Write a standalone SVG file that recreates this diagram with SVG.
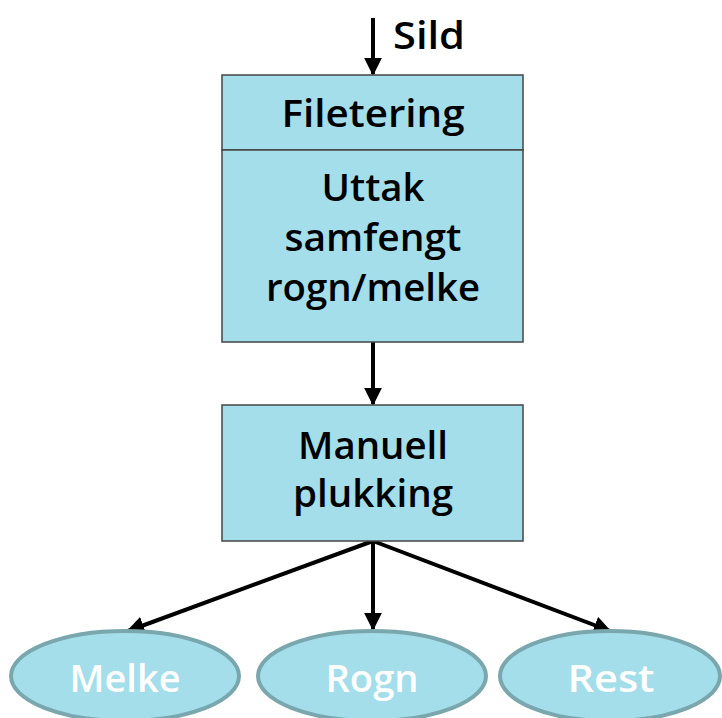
<svg xmlns="http://www.w3.org/2000/svg" width="722" height="718" viewBox="0 0 722 718">
<defs>
<style>
.box{fill:#A3DEEA;stroke:#444;stroke-width:1.5}
.ell{fill:#A3DEEA;stroke:#7AA6AE;stroke-width:4}
.t{font-family:"Open Sans","DejaVu Sans",sans-serif;font-weight:600;font-size:38px;fill:#000;text-anchor:middle}
.w{fill:#fff}
.c{stroke:#000;stroke-width:4;fill:none;marker-end:url(#ah)}
</style>
<marker id="ah" viewBox="0 0 10 10" refX="9" refY="5" markerWidth="4.5" markerHeight="4.5" orient="auto" markerUnits="strokeWidth">
<path d="M0,0 L10,5 L0,10 z" fill="#000"/>
</marker>
</defs>
<rect width="722" height="718" fill="#fff"/>
<g id="connectors">
<line class="c" x1="373" y1="18" x2="373" y2="74"/>
<line class="c" x1="373" y1="342" x2="373" y2="404"/>
<line class="c" x1="373" y1="541" x2="128" y2="631"/>
<line class="c" x1="373" y1="541" x2="373" y2="629"/>
<line class="c" x1="373" y1="541" x2="610" y2="631"/>
</g>
<text class="t" x="429" y="49" textLength="72" lengthAdjust="spacingAndGlyphs">Sild</text>
<g id="filetering">
<rect class="box" x="222" y="75" width="301" height="75"/>
<text class="t" x="373" y="127" textLength="183" lengthAdjust="spacingAndGlyphs">Filetering</text>
</g>
<g id="uttak">
<rect class="box" x="222" y="150" width="301" height="192"/>
<text class="t" x="373" y="201" textLength="103" lengthAdjust="spacingAndGlyphs">Uttak</text>
<text class="t" x="373" y="251" textLength="177" lengthAdjust="spacingAndGlyphs">samfengt</text>
<text class="t" x="373" y="301" textLength="214" lengthAdjust="spacingAndGlyphs">rogn/melke</text>
</g>
<g id="manuell">
<rect class="box" x="222" y="405" width="301" height="136"/>
<text class="t" x="373" y="459" textLength="150" lengthAdjust="spacingAndGlyphs">Manuell</text>
<text class="t" x="373" y="507" textLength="160" lengthAdjust="spacingAndGlyphs">plukking</text>
</g>
<g id="melke">
<ellipse class="ell" cx="125" cy="676" rx="114" ry="45"/>
<text class="t w" x="125" y="692" textLength="111" lengthAdjust="spacingAndGlyphs">Melke</text>
</g>
<g id="rogn">
<ellipse class="ell" cx="372" cy="676" rx="114" ry="45"/>
<text class="t w" x="372" y="692" textLength="93" lengthAdjust="spacingAndGlyphs">Rogn</text>
</g>
<g id="rest">
<ellipse class="ell" cx="610" cy="676" rx="110" ry="45"/>
<text class="t w" x="611" y="692" textLength="87" lengthAdjust="spacingAndGlyphs">Rest</text>
</g>
</svg>
